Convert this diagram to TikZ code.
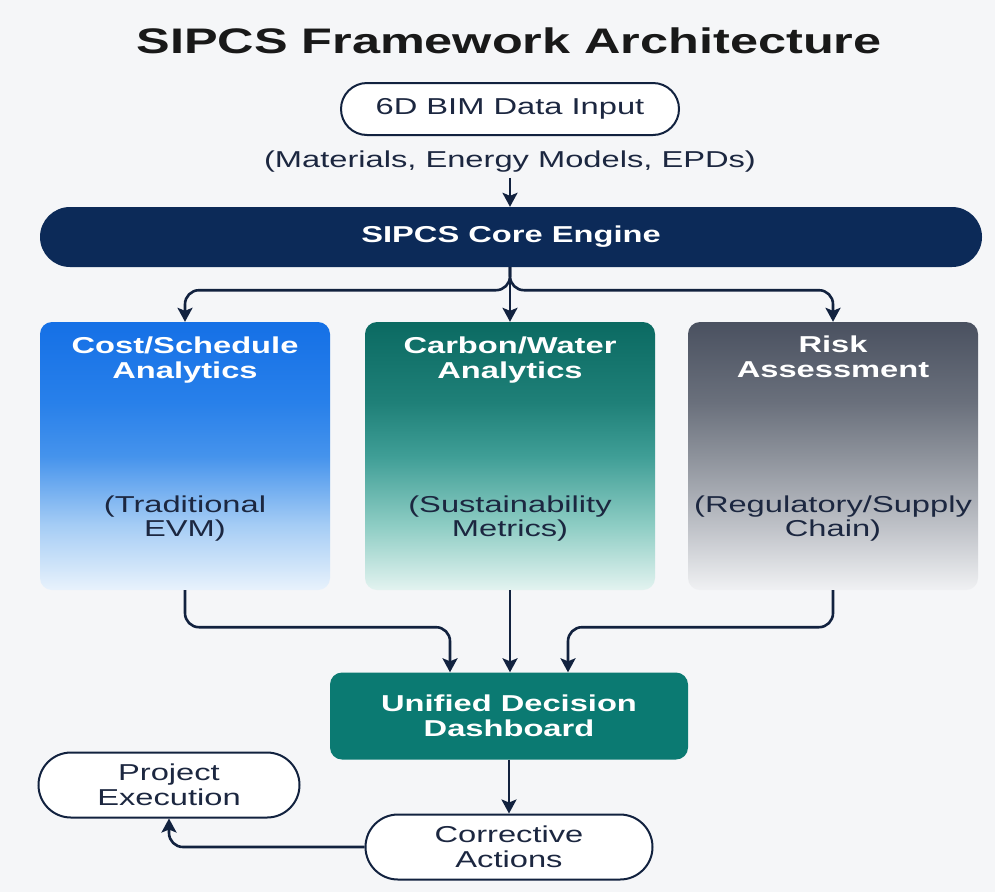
\documentclass[tikz,border=0pt]{standalone}
\usepackage{fontspec}
\setmainfont{Liberation Sans}[FakeStretch=1.42]
\usetikzlibrary{arrows.meta}

\definecolor{bgc}{HTML}{F5F6F8}
\definecolor{navy}{HTML}{12223F}
\definecolor{corenavy}{HTML}{0C2A58}
\definecolor{inktext}{HTML}{1C2740}
\definecolor{dashteal}{HTML}{0B7A72}

% vertical shadings: the box spans 25bp (bottom) to 75bp (top)
\pgfdeclareverticalshading{costshade}{100bp}{%
  color(0bp)=(rgb,255:red,232;green,242;blue,252);
  color(25bp)=(rgb,255:red,232;green,242;blue,252);
  color(37bp)=(rgb,255:red,166;green,205;blue,245);
  color(50bp)=(rgb,255:red,69;green,147;blue,236);
  color(60bp)=(rgb,255:red,40;green,128;blue,234);
  color(75bp)=(rgb,255:red,21;green,112;blue,230);
  color(100bp)=(rgb,255:red,21;green,112;blue,230)}
\pgfdeclareverticalshading{carbonshade}{100bp}{%
  color(0bp)=(rgb,255:red,227;green,243;blue,240);
  color(25bp)=(rgb,255:red,227;green,243;blue,240);
  color(37bp)=(rgb,255:red,142;green,205;blue,196);
  color(50bp)=(rgb,255:red,63;green,158;blue,150);
  color(60bp)=(rgb,255:red,31;green,128;blue,120);
  color(75bp)=(rgb,255:red,11;green,106;blue,98);
  color(100bp)=(rgb,255:red,11;green,106;blue,98)}
\pgfdeclareverticalshading{riskshade}{100bp}{%
  color(0bp)=(rgb,255:red,240;green,241;blue,243);
  color(25bp)=(rgb,255:red,240;green,241;blue,243);
  color(37bp)=(rgb,255:red,190;green,193;blue,199);
  color(50bp)=(rgb,255:red,141;green,146;blue,155);
  color(60bp)=(rgb,255:red,106;green,112;blue,124);
  color(75bp)=(rgb,255:red,74;green,81;blue,96);
  color(100bp)=(rgb,255:red,74;green,81;blue,96)}

\begin{document}
\begin{tikzpicture}[x=1pt,y=-1pt,
  txt/.style={font=\fontsize{23}{24.5}\selectfont, align=center, inner sep=0pt},
  boldtxt/.style={font=\fontsize{23}{24.5}\selectfont\bfseries, align=center, inner sep=0pt},
  pill/.style={txt, draw=navy, line width=2pt, fill=white, text=inktext},
  panel/.style={draw=none, rounded corners=12pt, minimum width=290pt, minimum height=268pt, inner sep=0pt},
  conn/.style={draw=navy, line width=2.6pt, rounded corners=14pt,
    -{Stealth[length=14pt,width=15pt,inset=3pt]}}
]
\fill[bgc] (0,0) rectangle (995,892);
\useasboundingbox (0,0) rectangle (995,892);

% heading
\node[anchor=base, inner sep=0pt, text=black!90,
      font=\fontsize{35.5}{40}\selectfont\bfseries] (title) at (509,53)
  {SIPCS Framework Architecture};

% input
\node[pill, rounded corners=26pt, minimum width=338pt, minimum height=52pt] (bim) at (510,109)
  {6D BIM Data Input};
\node[txt, text=inktext, inner ysep=5pt] (bimsub) at (510,162)
  {(Materials, Energy Models, EPDs)};

% core engine
\node[boldtxt, text=white, fill=corenavy, rounded corners=30pt,
      minimum width=942pt, minimum height=60pt] (core) at (511,237) {SIPCS Core Engine};

% analytics panels
\node[panel, shade, shading=costshade]   (cost)   at (185,456) {};
\node[panel, shade, shading=carbonshade] (carbon) at (510,456) {};
\node[panel, shade, shading=riskshade]   (risk)   at (833,456) {};

\node[boldtxt, text=white] (costT)   at (185,360) {Cost/Schedule\\Analytics};
\node[boldtxt, text=white] (carbonT) at (510,360) {Carbon/Water\\Analytics};
\node[boldtxt, text=white] (riskT)   at (833,357) {Risk\\Assessment};

\node[txt, text=inktext] (costS)   at (185,518.5) {(Traditional\\EVM)};
\node[txt, text=inktext] (carbonS) at (510,518.5) {(Sustainability\\Metrics)};
\node[txt, text=inktext] (riskS)   at (833,518.5) {(Regulatory/Supply\\Chain)};

% dashboard and loop
\node[boldtxt, text=white, fill=dashteal, rounded corners=12pt,
      minimum width=358pt, minimum height=87pt] (dash) at (509,716) {Unified Decision\\Dashboard};
\node[pill, rounded corners=32.5pt, minimum width=287pt, minimum height=65pt] (corr) at (509,847)
  {Corrective\\Actions};
\node[pill, rounded corners=32.5pt, minimum width=261pt, minimum height=65pt] (proj) at (169,785)
  {Project\\Execution};

\coordinate (dashL) at ([xshift=-59pt]dash.north);
\coordinate (dashR) at ([xshift=59pt]dash.north);

% connectors
\draw[conn] (bimsub.south) -- (bimsub.south |- core.north);
\draw[conn] (core.south -| carbon.north) -- ++(0,23) -| (cost.north);
\draw[conn] (core.south -| carbon.north) -- (carbon.north);
\draw[conn] (core.south -| carbon.north) -- ++(0,23) -| (risk.north);

\draw[conn] (cost.south) -- ++(0,37) -| (dashL);
\draw[conn] (carbon.south) -- (carbon.south |- dash.north);
\draw[conn] (risk.south) -- ++(0,37) -| (dashR);

\draw[conn] (dash.south) -- (corr.north);
\draw[conn] (corr.west) -| (proj.south);
\end{tikzpicture}
\end{document}
